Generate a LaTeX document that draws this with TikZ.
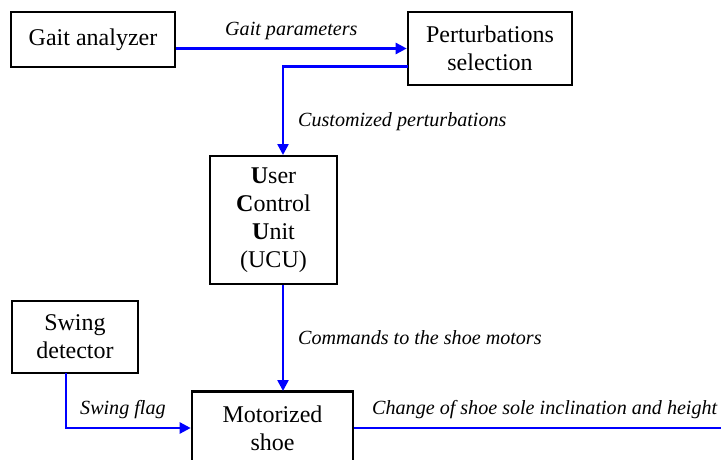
\documentclass[tikz,border=0pt]{standalone}
\usepackage{fontspec}
\setmainfont{Liberation Serif}
\usetikzlibrary{arrows.meta}
\begin{document}
\begin{tikzpicture}[x=1pt,y=-1pt,
  blk/.style={draw=black,line width=2.6pt,fill=white,inner sep=0pt,align=center,
    font=\fontsize{24}{28}\selectfont},
  conn/.style={draw={rgb,255:red,0;green,0;blue,255},line width=2.5pt},
  arr/.style={conn,-{Triangle[length=11pt,width=11pt]}},
  lbl/.style={inner sep=0pt,anchor=west,font=\fontsize{20.1}{24}\selectfont\itshape}]
\useasboundingbox (0,0) rectangle (721,460);
\node[blk,minimum width=164pt,minimum height=55pt] (ga) at (93,39.5) {Gait analyzer};
\node[blk,minimum width=164pt,minimum height=73pt] (pert) at (490,48.5) {Perturbations\\selection};
\node[blk,minimum width=127pt,minimum height=128pt] (ucu) at (273.5,220) {\textbf{U}ser\\\textbf{C}ontrol\\\textbf{U}nit\\(UCU)};
\node[blk,minimum width=126pt,minimum height=72pt] (sw) at (75,337) {Swing\\detector};
\node[blk,minimum width=161pt,minimum height=73pt] (shoe) at (272.5,428) {Motorized\\shoe};
\coordinate (pout) at (408,66.7);
\coordinate (ucuin) at (283,155);
\coordinate (ucuout) at (283,285);
\coordinate (shoein) at (283,391);
\coordinate (swout) at (66,373);
\coordinate (out) at (721,428);
\draw[arr] (ga.east |- pert.west) -- (pert.west);
\draw[arr] (pout) -| (ucuin);
\draw[arr] (ucuout) -- (shoein);
\draw[arr] (swout) |- (shoe.west);
\draw[conn] (shoe.east) -- (out);
\node[lbl] (l1) at (225,31) {Gait parameters};
\node[lbl] (l2) at (298,122) {Customized perturbations};
\node[lbl] (l3) at (298,338) {Commands to the shoe motors};
\node[lbl] (l4) at (80,410) {Swing flag};
\node[lbl] (l5) at (372,410) {Change of shoe sole inclination and height};
\end{tikzpicture}
\end{document}
